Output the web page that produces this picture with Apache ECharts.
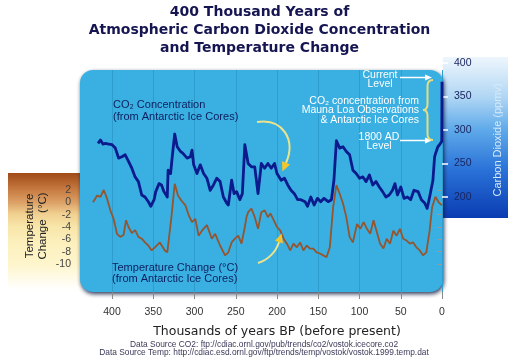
<!DOCTYPE html>
<html><head><meta charset="utf-8">
<script src="https://cdn.jsdelivr.net/npm/echarts@6/dist/echarts.min.js"></script>
<style>html,body{margin:0;padding:0;background:#fff}#c{width:519px;height:361px}</style>
</head><body><div id="c"></div>
<script>
// ---- data (thousands of years BP) ----
const co2Age = [417,414,411,408,404,400,396,392,388,384,380,376,372,368,364,360,356,353,349,347,343,340,337,333,332,329,327,324,321,317,314,309,305,303,301,297,293,289,285,281,277,273,269,265,261,259,255,252,249,245,242,239,235,231,227,223,219,215,211,207,203,200,195,191,187,183,179,175,171,166,163,159,155,151,147,143,138,134,131,128,124,120,116,112,108,104,100,96,92,88,84,80,76,72,68,64,60,57,54,50,46,42,38,34,29,25,21,18,15,11,9,7,5,3,1,0.3,0];
const co2Ppm = [280,285,279,280,279,278,273,258,260,263,253,243,230,223,203,200,193,186,196,208,220,218,208,200,240,235,260,294,275,268,265,258,260,270,248,235,248,235,228,210,218,228,223,200,191,188,225,205,208,196,205,278,250,245,245,205,250,243,250,243,250,235,225,228,218,210,205,196,196,193,186,200,188,198,193,198,193,196,225,284,273,275,268,263,240,235,228,230,223,233,218,223,215,208,200,203,210,220,203,215,198,200,196,210,208,196,191,183,200,225,260,268,275,278,280,283,372];
const tempAge = [423,418,414,410,406,402,398,394,390,386,383,380,376,372,368,364,360,356,352,348,342,336,333,328,324,320,316,311,307,303,299,295,291,285,279,275,269,263,259,255,251,247,243,239,237,235,231,227,223,219,215,211,208,204,200,196,192,188,184,180,176,172,168,164,160,156,152,148,144,140,136,132,128,124,120,116,112,108,103,99,95,91,87,83,79,75,71,67,63,59,55,51,47,43,39,35,31,27,23,19,15,12,8,4,0];
const tempC = [0.0,1.1,0.9,2.0,0.6,-1.3,-2.7,-5.1,-5.6,-5.3,-2.9,-4.0,-5.0,-4.5,-5.6,-5.9,-6.5,-7.0,-7.8,-7.3,-6.5,-7.8,-8.1,-2.4,3.0,1.1,0.3,-0.5,-2.1,-3.2,-2.7,-5.4,-4.6,-3.7,-5.9,-5.1,-7.0,-8.6,-8.1,-6.5,-5.9,-5.4,-6.7,-4.0,-2.4,-1.6,-1.0,-2.4,-4.3,-1.6,-1.3,-2.4,-1.8,-2.9,-4.0,-4.6,-5.9,-6.7,-7.8,-6.7,-7.3,-6.5,-7.8,-7.0,-7.5,-7.5,-8.1,-8.3,-8.6,-8.9,-7.3,-0.8,2.8,1.4,-0.2,-2.4,-5.6,-6.5,-3.5,-4.3,-3.2,-4.3,-5.1,-2.9,-4.8,-6.7,-7.5,-5.9,-6.7,-4.6,-5.4,-4.3,-5.9,-6.2,-6.7,-6.5,-7.3,-7.8,-8.6,-8.1,-4.6,-0.8,0.9,0.0,-0.5];
// ---- axis scales ----
const ageRange = [0, 400], ageStep = 50;
const ageRangeFull = [0, 438.8];   // extent of the plotting panel (left edge = 438.8 ky)
const co2Range = [200, 400], co2Step = 50;
const tempRange = [-10, 2], tempStep = 2;

const narrow = "'Liberation Sans Narrow','Liberation Sans',Arial,sans-serif";
const co2Data = co2Age.map((a, i) => [a, co2Ppm[i]]);
const tempData = tempAge.map((a, i) => [a, tempC[i]]);

const chart = echarts.init(document.getElementById('c'), null, {renderer: 'canvas'});
const hidX = (g) => ({gridIndex: g, type: 'value', min: ageRangeFull[0], max: ageRangeFull[1], inverse: true, show: false});
const yel = '#e9dc7c';
const bq = (x1, y1, cx, cy, x2, y2) => ({type: 'bezierCurve', z: 50, shape: {x1, y1, cpx1: cx, cpy1: cy, x2, y2}, style: {stroke: yel, lineWidth: 2, fill: null}});
chart.setOption({
  animation: false,
  backgroundColor: '#ffffff',
  title: {
    text: '400 Thousand Years of\nAtmospheric Carbon Dioxide Concentration\nand Temperature Change',
    left: 'center', top: 3.5, padding: 0,
    textStyle: {fontFamily: "'DejaVu Sans',Verdana,sans-serif", fontWeight: 'bold', fontSize: 14, lineHeight: 18, color: '#151552', align: 'center'}
  },
  grid: [
    {left: 80, right: 77, top: 63, height: 134, outerBoundsMode: 'none'},
    {left: 80, right: 77, top: 190, height: 74, outerBoundsMode: 'none'},
    {left: 112, right: 77, top: 70, height: 222, outerBoundsMode: 'none'}
  ],
  xAxis: [
    hidX(0), hidX(1),
    {gridIndex: 2, type: 'value', min: ageRange[0], max: ageRange[1], interval: ageStep, inverse: true,
     axisLine: {show: false},
     axisTick: {show: true, length: 7, lineStyle: {color: '#888', width: 1}},
     splitLine: {show: true, lineStyle: {color: '#2e9ccd', width: 1}},
     axisLabel: {margin: 15, color: '#333', fontFamily: narrow, fontSize: 10.5},
     name: 'Thousands of years BP (before present)', nameLocation: 'middle', nameGap: 33,
     nameTextStyle: {fontFamily: "'DejaVu Sans',Verdana,sans-serif", fontSize: 12.5, color: '#222'}}
  ],
  yAxis: [
    {gridIndex: 0, type: 'value', position: 'right', min: co2Range[0], max: co2Range[1], interval: co2Step,
     axisLine: {show: false}, splitLine: {show: false},
     axisTick: {show: true, length: 6, lineStyle: {color: '#ffffff', width: 1.5}},
     axisLabel: {margin: 12, color: '#1b2660', fontFamily: narrow, fontSize: 10.5}},
    {gridIndex: 1, type: 'value', position: 'left', min: tempRange[0], max: tempRange[1], interval: tempStep,
     axisLine: {show: false}, splitLine: {show: false},
     axisTick: {show: true, length: 5, lineStyle: {color: '#999', width: 1}},
     axisLabel: {margin: 9, color: '#444', fontFamily: narrow, fontSize: 10.5}},
    {gridIndex: 2, type: 'value', show: false}
  ],
  series: [
    {type: 'line', xAxisIndex: 1, yAxisIndex: 1, data: tempData, showSymbol: false, clip: false, z: 3,
     lineStyle: {color: '#94552f', width: 1.8}},
    {type: 'line', xAxisIndex: 0, yAxisIndex: 0, data: co2Data, showSymbol: false, clip: false, z: 4,
     lineStyle: {color: '#0b1a8c', width: 2.8, join: 'round'}}
  ],
  graphic: {elements: [
    {type: 'rect', z: -20, shape: {x: 8, y: 173, width: 80, height: 117},
     style: {fill: new echarts.graphic.LinearGradient(0, 0, 0, 1, [
       {offset: 0, color: '#a04a18'}, {offset: 0.14, color: '#c67a40'}, {offset: 0.25, color: '#dca066'},
       {offset: 0.35, color: '#f0d090'}, {offset: 0.46, color: '#f8e6aa'}, {offset: 0.6, color: '#fcf0bd'},
       {offset: 0.78, color: '#fef5cc'}, {offset: 1, color: '#ffffff'}])}},
    {type: 'rect', z: -20, shape: {x: 443, y: 57, width: 65, height: 161},
     style: {fill: new echarts.graphic.LinearGradient(0, 0, 0, 1, [
       {offset: 0, color: '#eef6fc'}, {offset: 0.25, color: '#b0d6f4'}, {offset: 0.45, color: '#5faaea'},
       {offset: 0.7, color: '#2a72d8'}, {offset: 1, color: '#0a3cb2'}])}},
    {type: 'rect', z: -10, shape: {x: 80, y: 70, width: 363, height: 222, r: 13},
     style: {fill: '#3aafe2', shadowBlur: 4, shadowOffsetY: 2, shadowOffsetX: 1, shadowColor: 'rgba(10,20,60,0.85)'}},
    {type: 'text', z: 50, x: 498, y: 140, rotation: Math.PI / 2,
     style: {text: 'Carbon Dioxide (ppmv)', fill: '#d6eafa', font: "11px 'Liberation Sans',Arial,sans-serif", align: 'center', verticalAlign: 'middle'}},
    {type: 'text', z: 50, x: 36, y: 226, rotation: Math.PI / 2,
     style: {text: 'Temperature\nChange  (°C)', fill: '#222', font: "11.5px 'Liberation Sans',Arial,sans-serif", align: 'center', verticalAlign: 'middle', lineHeight: 13}},
    {type: 'text', z: 50, x: 113, y: 99,
     style: {text: 'CO₂ Concentration\n(from Antarctic Ice Cores)', fill: '#0d1f5e', font: "11px 'Liberation Sans',Arial,sans-serif", lineHeight: 12, verticalAlign: 'top'}},
    {type: 'text', z: 50, x: 112, y: 262,
     style: {text: 'Temperature Change (°C)\n(from Antarctic Ice Cores)', fill: '#0d1f5e', font: "11px 'Liberation Sans',Arial,sans-serif", lineHeight: 11.5, verticalAlign: 'top'}},
    {type: 'text', z: 50, x: 380, y: 70,
     style: {text: 'Current\nLevel', fill: '#ffffff', font: "10.5px 'Liberation Sans',Arial,sans-serif", lineHeight: 9.5, align: 'center', verticalAlign: 'top'}},
    {type: 'text', z: 50, x: 419, y: 96,
     style: {text: 'CO₂ concentration from\nMauna Loa Observations\n& Antarctic Ice Cores', fill: '#ffffff', font: "10.5px 'Liberation Sans',Arial,sans-serif", lineHeight: 9.7, align: 'right', verticalAlign: 'top'}},
    {type: 'text', z: 50, x: 379, y: 132,
     style: {text: '1800 AD\nLevel', fill: '#ffffff', font: "10.5px 'Liberation Sans',Arial,sans-serif", lineHeight: 9.5, align: 'center', verticalAlign: 'top'}},
    {type: 'line', z: 50, shape: {x1: 400, y1: 77.5, x2: 426, y2: 77.5}, style: {stroke: '#ffffff', lineWidth: 1.5}},
    {type: 'polygon', z: 50, shape: {points: [[432, 77.5], [425, 74.5], [425, 80.5]]}, style: {fill: '#ffffff'}},
    {type: 'line', z: 50, shape: {x1: 400, y1: 140.5, x2: 426, y2: 140.5}, style: {stroke: '#ffffff', lineWidth: 1.5}},
    {type: 'polygon', z: 50, shape: {points: [[432, 140.5], [425, 137.5], [425, 143.5]]}, style: {fill: '#ffffff'}},
    bq(433, 80, 427.5, 80, 427.5, 86),
    {type: 'line', z: 50, shape: {x1: 427.5, y1: 86, x2: 427.5, y2: 104}, style: {stroke: yel, lineWidth: 2}},
    bq(427.5, 104, 427.5, 110, 423, 110),
    bq(423, 110, 427.5, 110, 427.5, 116),
    {type: 'line', z: 50, shape: {x1: 427.5, y1: 116, x2: 427.5, y2: 134}, style: {stroke: yel, lineWidth: 2}},
    bq(427.5, 134, 427.5, 140, 433, 140),
    {type: 'bezierCurve', z: 50, shape: {x1: 257, y1: 122, cpx1: 283, cpy1: 118, cpx2: 296, cpy2: 140, x2: 286, y2: 163},
     style: {stroke: '#ece38e', lineWidth: 2, fill: null}},
    {type: 'polygon', z: 50, shape: {points: [[282.4, 171.5], [290, 164.6], [282, 161.2]]}, style: {fill: '#f4c62a'}},
    {type: 'bezierCurve', z: 50, shape: {x1: 258, y1: 263, cpx1: 268, cpy1: 260, cpx2: 276, cpy2: 252, x2: 279, y2: 242},
     style: {stroke: '#ece38e', lineWidth: 2, fill: null}},
    {type: 'polygon', z: 50, shape: {points: [[281.6, 233.4], [283, 243.4], [275, 240.8]]}, style: {fill: '#f4c62a'}},
    {type: 'text', z: 50, x: 264, y: 340,
     style: {text: 'Data Source CO2: ftp://cdiac.ornl.gov/pub/trends/co2/vostok.icecore.co2\nData Source Temp: http://cdiac.esd.ornl.gov/ftp/trends/temp/vostok/vostok.1999.temp.dat',
       fill: '#3a3a5a', font: "8.4px 'Liberation Sans',Arial,sans-serif", lineHeight: 8.5, align: 'center', verticalAlign: 'top'}}
  ]}
});
</script>
</body></html>
